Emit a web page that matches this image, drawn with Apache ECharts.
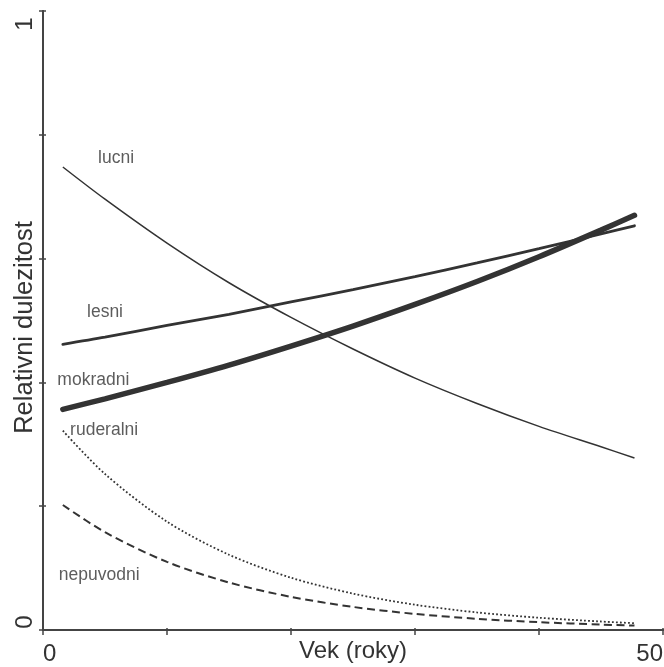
<!DOCTYPE html>
<html>
<head>
<meta charset="utf-8">
<script src="https://cdn.jsdelivr.net/npm/echarts@6/dist/echarts.min.js"></script>
<style>
html,body{margin:0;padding:0;background:#fff;}
#chart{width:664px;height:667px;}
</style>
</head>
<body>
<div id="chart"></div>
<script>
// x values (Vek, roky)
var ages = [1.6, 5, 10, 15, 20, 25, 30, 35, 40, 45, 47.7];
// relative importance per group
var lucni     = [0.748, 0.696, 0.625, 0.561, 0.505, 0.454, 0.407, 0.366, 0.329, 0.296, 0.278];
var lesni     = [0.4615, 0.473, 0.492, 0.510, 0.530, 0.550, 0.571, 0.593, 0.616, 0.640, 0.653];
var mokradni  = [0.3565, 0.3735, 0.400, 0.428, 0.4587, 0.491, 0.526, 0.563, 0.603, 0.646, 0.670];
var ruderalni = [0.322, 0.252, 0.175, 0.1216, 0.0845, 0.0588, 0.0408, 0.0284, 0.0198, 0.0137, 0.011];
var nepuvodni = [0.202, 0.158, 0.110, 0.0767, 0.0535, 0.0373, 0.026, 0.0181, 0.0126, 0.0088, 0.0072];

// curve label names and their anchor points (data coordinates)
var labelNames = ['lucni', 'lesni', 'mokradni', 'ruderalni', 'nepuvodni'];
var labelX = [5.89, 5.0, 4.06, 4.93, 4.53];
var labelY = [0.762, 0.513, 0.403, 0.323, 0.089];

var xTickLabels = ['0', '50'];
var yTickLabels = ['0', '1'];

var FONT = "'Liberation Sans', Arial, Helvetica, sans-serif";
var AX = '#444';
var TX = '#333';
var LC = '#333';

function pairs(ys) { return ages.map(function (x, i) { return [x, ys[i]]; }); }

var chart = echarts.init(document.getElementById('chart'), null, {renderer: 'canvas'});

var baseX = {type: 'value', min: 0, max: 50, interval: 10, splitLine: {show: false}};
var baseY = {type: 'value', min: 0, max: 1, interval: 0.2, splitLine: {show: false}};

var option = {
  animation: false,
  backgroundColor: '#fff',
  textStyle: {fontFamily: FONT},
  grid: {left: 43, top: 11, right: 1, bottom: 37, containLabel: false, outerBoundsMode: 'none'},
  xAxis: [
    Object.assign({}, baseX, {
      position: 'bottom',
      name: 'Vek (roky)', nameLocation: 'middle', nameGap: 9, nameMoveOverlap: false,
      nameTextStyle: {fontSize: 24, color: TX, fontFamily: FONT, verticalAlign: 'top'},
      axisLine: {show: true, lineStyle: {color: AX, width: 2}},
      axisTick: {show: true, inside: false, length: 5, lineStyle: {color: AX, width: 1.5}},
      axisLabel: {
        show: true, margin: 12, fontSize: 24, color: TX, fontFamily: FONT,
        alignMinLabel: 'left', alignMaxLabel: 'right',
        formatter: function (v) {
          if (v === 0) return xTickLabels[0];
          if (v === 50) return xTickLabels[1];
          return '';
        }
      }
    }),
    Object.assign({}, baseX, {
      position: 'bottom',
      axisLine: {show: false},
      axisTick: {show: true, inside: true, length: 2, lineStyle: {color: AX, width: 1.5}},
      axisLabel: {show: false}
    }),
    Object.assign({}, baseX, {
      position: 'top',
      axisLine: {show: true, lineStyle: {color: AX, width: 2}},
      axisTick: {show: false},
      axisLabel: {show: false}
    })
  ],
  yAxis: [
    Object.assign({}, baseY, {
      position: 'left',
      name: 'Relativni dulezitost', nameLocation: 'middle', nameGap: 5, nameRotate: 90, nameMoveOverlap: false,
      nameTextStyle: {fontSize: 25.5, color: TX, fontFamily: FONT, padding: [0, 14, 0, 0]},
      axisLine: {show: true, lineStyle: {color: AX, width: 2}},
      axisTick: {show: true, inside: false, length: 4, lineStyle: {color: AX, width: 1.5}},
      axisLabel: {
        show: true, rotate: 90, margin: 6, fontSize: 24, color: TX, fontFamily: FONT,
        formatter: function (v) {
          if (Math.abs(v) < 1e-9) return '{b|' + yTickLabels[0] + '}';
          if (Math.abs(v - 1) < 1e-9) return '{t|' + yTickLabels[1] + '}';
          return '';
        },
        rich: {
          t: {fontSize: 24, color: TX, fontFamily: FONT, padding: [0, 26, 0, 0]},
          b: {fontSize: 24, color: TX, fontFamily: FONT, padding: [0, 0, 0, 16]}
        }
      }
    }),
    Object.assign({}, baseY, {
      position: 'left',
      axisLine: {show: false},
      axisTick: {show: true, inside: true, length: 3, lineStyle: {color: AX, width: 1.5}},
      axisLabel: {show: false}
    }),
    Object.assign({}, baseY, {
      position: 'right',
      axisLine: {show: true, lineStyle: {color: AX, width: 2}},
      axisTick: {show: false},
      axisLabel: {show: false}
    })
  ],
  series: [
    {name: 'lucni', type: 'line', data: pairs(lucni), smooth: 0.3, showSymbol: false,
     lineStyle: {color: LC, width: 1.5}},
    {name: 'lesni', type: 'line', data: pairs(lesni), smooth: 0.3, showSymbol: false,
     lineStyle: {color: LC, width: 2.8, cap: 'round'}},
    {name: 'mokradni', type: 'line', data: pairs(mokradni), smooth: 0.3, showSymbol: false,
     lineStyle: {color: LC, width: 5.5, cap: 'round'}},
    {name: 'ruderalni', type: 'line', data: pairs(ruderalni), smooth: 0.3, showSymbol: false,
     lineStyle: {color: LC, width: 1.8, type: [1.8, 2.2]}},
    {name: 'nepuvodni', type: 'line', data: pairs(nepuvodni), smooth: 0.3, showSymbol: false,
     lineStyle: {color: LC, width: 2, type: [8, 4.5]}},
    {name: 'labels', type: 'scatter', symbolSize: 0, silent: true,
     data: labelNames.map(function (n, i) { return {value: [labelX[i], labelY[i]], name: n}; }),
     label: {show: true, position: 'inside', formatter: '{b}', fontSize: 17.5, color: TX, fontFamily: FONT}}
  ]
};
chart.setOption(option);
</script>
</body>
</html>
